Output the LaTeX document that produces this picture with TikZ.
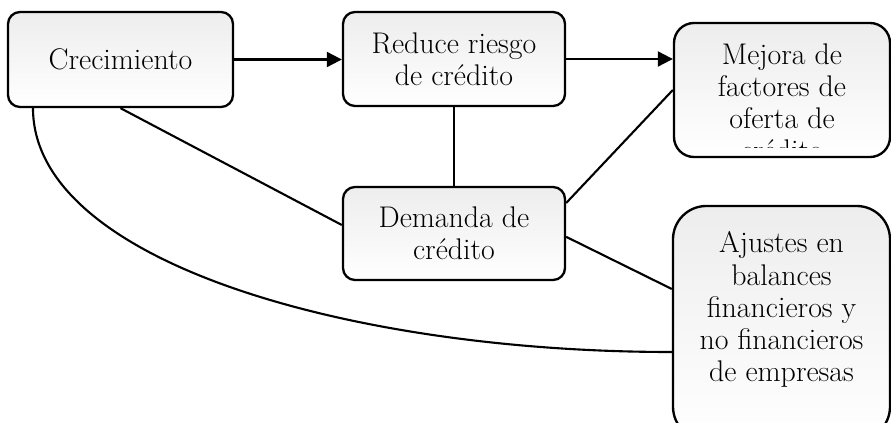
\documentclass[tikz,border=0pt]{standalone}
\usetikzlibrary{arrows.meta}
\definecolor{cajatop}{HTML}{EDEDED}
\tikzset{
  texto/.style={align=center, font=\fontsize{25.5}{27.4}\selectfont},
  caja/.style={draw, line width=2pt, rounded corners=#1, top color=cajatop, bottom color=white, texto},
  caja/.default=0.36cm,
  linea/.style={line width=1.8pt},
  flecha/.style={linea, -{Triangle[length=0.45cm,width=0.45cm]}}
}

\begin{document}
\begin{tikzpicture}[x=0.03cm, y=-0.03cm]
    \useasboundingbox (0,0) rectangle (891,423);
    \node[caja, minimum width=6.75cm, minimum height=2.85cm] (crec) at (120.5,59.5) {Crecimiento};
    \node[caja, minimum width=6.66cm, minimum height=2.82cm] (reduce) at (454,59) {Reduce riesgo\\de crédito};
    \node[caja, minimum width=6.66cm, minimum height=2.79cm] (demanda) at (454,233.5) {Demanda de\\crédito};
    \node[caja=0.6cm, minimum width=6.48cm, minimum height=4.02cm,
      path picture={
        \clip (-108,-67) rectangle (108,57);
        \node[texto] (mejoratxt) at (0,12) {Mejora de\\factores de\\oferta de\\crédito};
      }] (mejora) at (782,90) {};
    \node[caja=1cm, minimum width=6.51cm, minimum height=7.02cm,
      path picture={
        \node[texto] (ajustestxt) at (0,-13.5) {Ajustes en\\balances\\financieros y\\no financieros\\de empresas};
      }] (ajustes) at (781.5,323) {};
    \draw[flecha] (crec.east) -- (crec.east -| reduce.west);
    \draw[flecha] (reduce.east) -- (reduce.east -| mejora.west);
    \draw[linea] (reduce) -- (demanda);
    \draw[linea] (crec.south) -- ([yshift=0.255cm]demanda.west);
    \draw[linea] ([yshift=0.915cm]demanda.east) -- (mejora.west);
    \draw[linea] ([yshift=-0.1cm]demanda.east) -- ([yshift=1.02cm]ajustes.west);
    \draw[linea] ([xshift=-2.625cm]crec.south) .. controls +(0,153) and +(-323,0) .. ([yshift=-0.87cm]ajustes.west);
  \end{tikzpicture}
\end{document}
